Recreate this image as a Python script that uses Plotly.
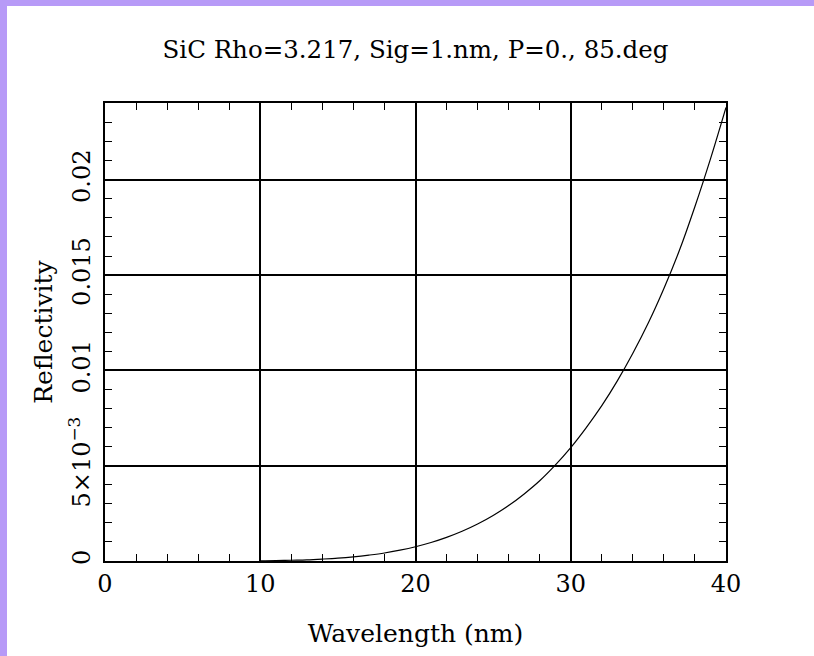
import plotly.graph_objects as go

# Data (wavelength in nm, reflectivity)
wavelength = [10, 11, 12, 13, 14, 15, 16, 17, 18, 19, 20, 21, 22, 23, 24, 25,
              26, 27, 28, 29, 30, 31, 32, 33, 34, 35, 36, 37, 38, 39, 40]
reflectivity = [0.00001, 0.00002, 0.00004, 0.00006, 0.00010, 0.00015, 0.00022,
                0.00031, 0.00042, 0.00057, 0.00075, 0.00097, 0.00124, 0.00156,
                0.00194, 0.00239, 0.00291, 0.00352, 0.00421, 0.00503, 0.00595,
                0.00700, 0.00815, 0.00945, 0.01090, 0.01250, 0.01430, 0.01630,
                0.01860, 0.02110, 0.02380]

x_ticks = [0, 10, 20, 30, 40]
x_ticktext = ["0", "10", "20", "30", "40"]
y_ticks = [0, 0.005, 0.01, 0.015, 0.02]
y_ticktext = ["0", "5×10<sup>−3</sup>", "0.01", "0.015", "0.02"]

title_text = "SiC Rho=3.217, Sig=1.nm, P=0., 85.deg"
x_title = "Wavelength (nm)"
y_title = "Reflectivity"

W, H = 814, 656
L, R, T, B = 105, 88, 103, 95
pw, ph = W - L - R, H - T - B

def px(x):
    return (x - L) / pw

def py(y):
    return (H - B - y) / ph

FONT = "DejaVu Serif"
PURPLE = "#b79af7"

fig = go.Figure()
fig.add_trace(go.Scatter(x=wavelength, y=reflectivity, mode="lines",
                         line=dict(color="black", width=1.2, shape="spline"),
                         showlegend=False, hoverinfo="skip"))

axis_common = dict(
    showline=True, linecolor="black", linewidth=1.5, mirror="allticks",
    ticks="inside", ticklen=8, tickwidth=1.2, tickcolor="black",
    showgrid=True, gridcolor="black", gridwidth=1.5, zeroline=False,
    tickfont=dict(family=FONT, size=24, color="black"),
)

fig.update_xaxes(range=[0, 40], tickvals=x_ticks, ticktext=x_ticktext,
                 minor=dict(dtick=2, ticks="inside", ticklen=7, tickcolor="black",
                            tickwidth=1.2, showgrid=False),
                 title=dict(text=x_title, font=dict(family=FONT, size=25, color="black"),
                            standoff=28),
                 **axis_common)
fig.update_yaxes(range=[0, 0.02403], tickvals=y_ticks, ticktext=y_ticktext,
                 tickangle=-90, ticklabelstandoff=4,
                 minor=dict(dtick=0.001, ticks="inside", ticklen=7, tickcolor="black",
                            tickwidth=1.2, showgrid=False),
                 title=dict(text=y_title, font=dict(family=FONT, size=25, color="black"),
                            standoff=4),
                 **axis_common)

shapes = [
    dict(type="rect", xref="paper", yref="paper", x0=px(0), x1=px(7), y0=py(H), y1=py(0),
         fillcolor=PURPLE, line=dict(width=0), layer="above"),
    dict(type="rect", xref="paper", yref="paper", x0=px(0), x1=px(W), y0=py(6), y1=py(0),
         fillcolor=PURPLE, line=dict(width=0), layer="above"),
]

fig.update_layout(
    width=W, height=H,
    margin=dict(l=L, r=R, t=T, b=B),
    paper_bgcolor="white", plot_bgcolor="white",
    title=dict(text=title_text, x=0.5, xref="paper", xanchor="center",
               y=1 - 49 / H, yref="container", yanchor="middle",
               font=dict(family=FONT, size=24.5, color="black")),
    shapes=shapes,
)

fig.write_html("out.html", config={"displayModeBar": False},
               post_script="document.body.style.margin='0';document.body.style.overflow='hidden';")
